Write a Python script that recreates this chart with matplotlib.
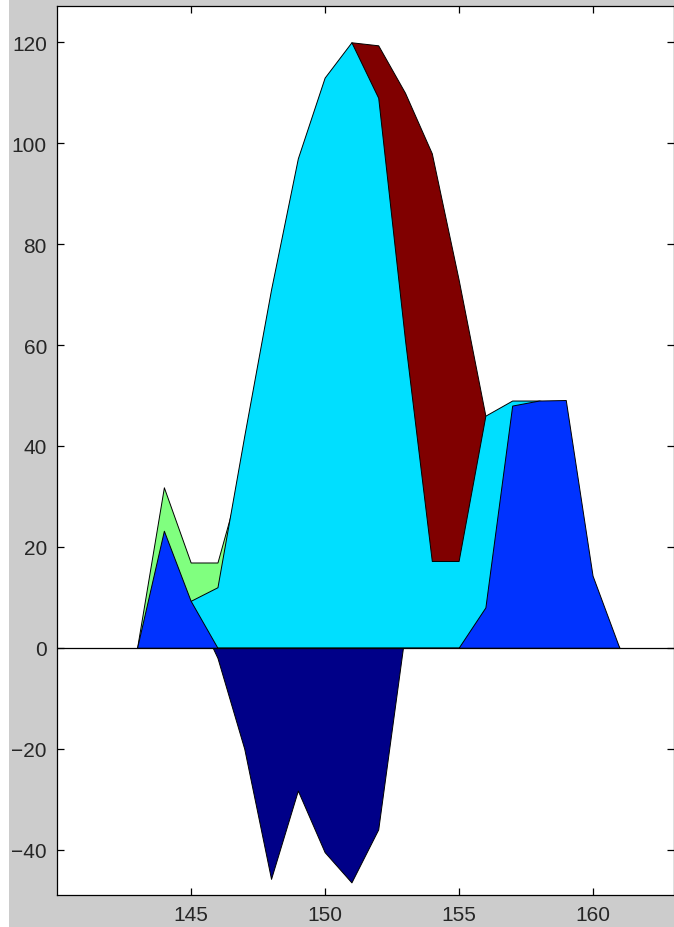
import matplotlib.pyplot as plt
from matplotlib.patches import Rectangle

x = list(range(143, 162))

# series values at x = 143 ... 161
navy = [0, 0, 9.3, -2, -20, -45.8, -28.3, -40.5, -46.5, -36, 3,
        0, 0, 0, 0, 0, 0, 0, 0]
dark_red = [0, 0, 0, 0, 0, 0, 0, 0, 120, 119.4, 110, 98, 73, 46,
            0, 0, 0, 0, 0]
green = [0, 31.8, 16.9, 16.9, 36, 0, 0, 0, 0, 0, 0, 0, 0, 0,
         0, 0, 0, 0, 0]
cyan = [0, 5, 9.3, 12, 42, 71, 97, 113, 120, 109, 61, 17.2, 17.2, 46,
        49, 49, 48, 10, 0]
blue = [0, 23.2, 9.3, 0, 0, 0, 0, 0, 0, 0, 0, 0, 0, 8,
        48, 49, 49.1, 14.3, 0]

series = [navy, dark_red, green, cyan, blue]
colors = ['#000088', '#800000', '#80FF7F', '#00DFFF', '#0033FF']

x_ticks = [145, 150, 155, 160]
y_ticks = [-40, -20, 0, 20, 40, 60, 80, 100, 120]


def main():
    fig = plt.figure(figsize=(6.74, 9.28), dpi=100, facecolor='#CCCCCC')
    fig.patches.append(Rectangle((0, 0), 9 / 674, 1, transform=fig.transFigure,
                                 facecolor='white', edgecolor='none'))
    ax = fig.add_axes([56.7 / 674, 32 / 928, 1 - 56.7 / 674, (896 - 6.7) / 928])
    for values, color in zip(series, colors):
        ax.fill_between(x, 0, values, facecolor=color, edgecolor='black',
                        linewidth=0.7)
    ax.axhline(0, color='black', linewidth=0.9)
    ax.set_xlim(140, 163.04)
    ax.set_ylim(-49, 127.25)
    ax.set_xticks(x_ticks)
    ax.set_yticks(y_ticks)
    ax.tick_params(direction='in', length=5, width=0.9, top=True, right=True,
                   labelsize=15, pad=7, colors='black', labelcolor='#262626')
    for label in ax.get_xticklabels() + ax.get_yticklabels():
        label.set_family('Liberation Sans')
    for spine in ax.spines.values():
        spine.set_linewidth(0.9)
    fig.savefig('out.png', dpi=100, facecolor=fig.get_facecolor())


if __name__ == '__main__':
    main()
